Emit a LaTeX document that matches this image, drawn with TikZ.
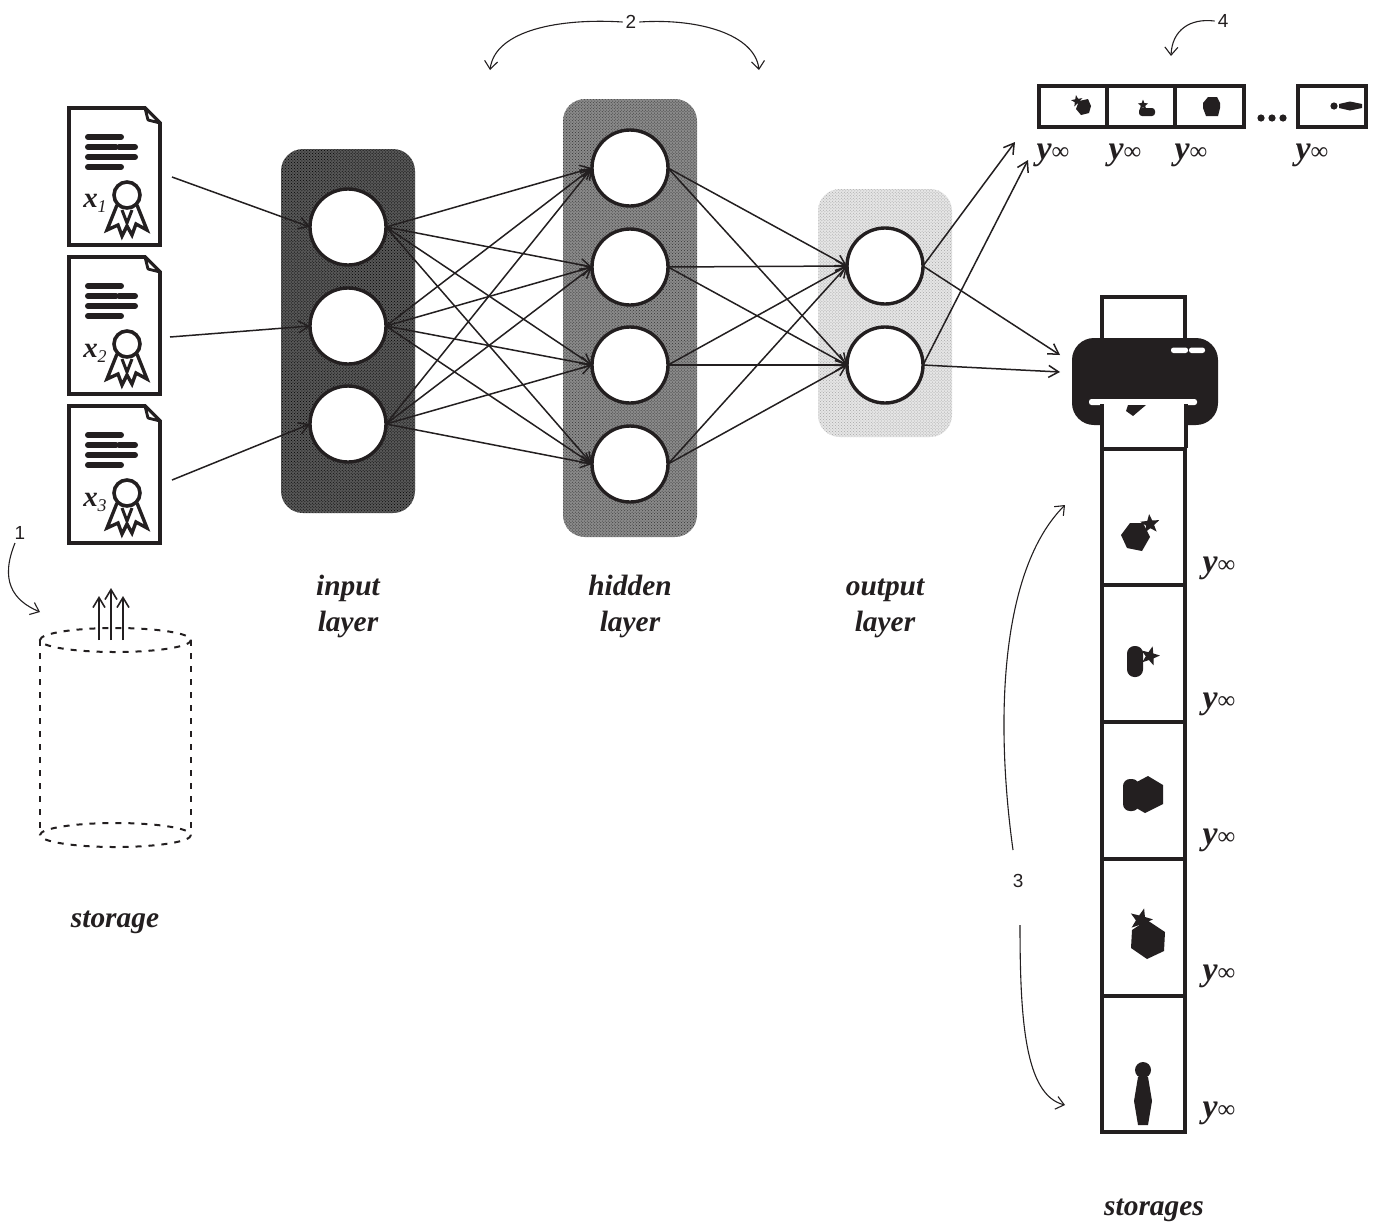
\documentclass[tikz,border=0pt]{standalone}
\usepackage{fontspec}
\setmainfont{Liberation Serif}
\newfontfamily\numfont{Liberation Sans}
\usetikzlibrary{arrows.meta,patterns}
\definecolor{ink}{HTML}{231F20}
\tikzset{
  layerbox/.style={rounded corners=22bp,draw=none},
  neuron/.style={circle,draw=ink,fill=white,line width=3.4bp,minimum size=76bp,inner sep=0pt,outer sep=0pt},
  conn/.style={draw=ink,line width=1.5bp,-{Straight Barb[length=10bp,width=12bp]}},
  curvearrow/.style={draw=ink,line width=1.1bp,-{Straight Barb[length=8bp,width=13bp]}},
  layertext/.style={font=\fontsize{29.5}{36}\selectfont\bfseries\itshape,align=center,text=ink},
  numlabel/.style={font=\numfont\fontsize{19}{19}\selectfont,text=ink,inner sep=3pt},
  cellbox/.style={draw=ink,line width=4bp,fill=white},
  yinflabel/.style={inner sep=0pt,text=ink},
  doctext/.style={font=\fontsize{29}{29}\selectfont\bfseries\itshape,text=ink,inner sep=0pt},
  blob/.style={fill=ink,draw=none},
  dashline/.style={draw=ink,line width=2bp,dash pattern=on 6bp off 7bp}
}
\newcommand\yinf{{\fontsize{34}{34}\selectfont\bfseries\itshape y}{\fontsize{25}{25}\selectfont ∞}}
\newcommand\starat[4]{\fill[blob,shift={(#1,#2)},rotate=#4,scale=#3] (0,-1)--(.25,-.33)--(.95,-.31)--(.4,.14)--(.59,.81)--(0,.42)--(-.59,.81)--(-.4,.14)--(-.95,-.31)--(-.25,-.33)--cycle;}
\newcommand\docicon[3]{%
  \begin{scope}[shift={(#1,#2)}]
    \draw[ink,line width=3.8bp,fill=white,line join=miter] (0,0)--(76,0)--(91,15)--(91,137)--(0,137)--cycle;
    \draw[ink,line width=2.8bp,fill=white,line join=round] (76,0)--(79,12)--(91,15)--cycle;
    \draw[ink,line width=6bp,line cap=round] (19,29)--(52,29) (19,39)--(47,39) (50,39)--(66,39) (19,49)--(66,49) (19,59)--(52,59);
    \draw[ink,line width=3.4bp,fill=white,line join=miter] (48,97)--(38,122)--(49,117)--(53,128)--(58,118)--(63,127)--(67,116)--(78,122)--(68,97);
    \draw[ink,line width=3bp] (53,102)--(58,115)--(63,102);
    \draw[ink,line width=3.6bp,fill=white] (58,87) circle[radius=13];
    \coordinate (#3) at (27,93);
  \end{scope}}
\begin{document}
\begin{tikzpicture}[x=1bp,y=-1bp]
\useasboundingbox (0,0) rectangle (1382,1225);
\fill[white] (0,0) rectangle (1382,1225);
% layers
\fill[layerbox,fill=black!66] (281,149) rectangle (415,513);
\fill[layerbox,pattern=crosshatch dots,pattern color=black] (281,149) rectangle (415,513);
\fill[layerbox,fill=black!46] (563,99) rectangle (697,537);
\fill[layerbox,pattern=crosshatch dots,pattern color=black!80] (563,99) rectangle (697,537);
\fill[layerbox,fill=black!10] (818,189) rectangle (952,437);
\fill[layerbox,pattern=crosshatch dots,pattern color=black!35] (818,189) rectangle (952,437);
% neurons
\node[neuron] (i1) at (348,227) {};
\node[neuron] (i2) at (348,326) {};
\node[neuron] (i3) at (348,424) {};
\node[neuron] (h1) at (630,168) {};
\node[neuron] (h2) at (630,267) {};
\node[neuron] (h3) at (630,365) {};
\node[neuron] (h4) at (630,464) {};
\node[neuron] (o1) at (885,266) {};
\node[neuron] (o2) at (885,365) {};
% documents
\docicon{69}{108}{docA}
\docicon{69}{257}{docB}
\docicon{69}{406}{docC}
\node[doctext] (xa) at (95,203) {x\raisebox{-5pt}{\fontsize{18}{18}\selectfont\mdseries 1}};
\node[doctext] (xb) at (95,353) {x\raisebox{-5pt}{\fontsize{18}{18}\selectfont\mdseries 2}};
\node[doctext] (xc) at (95,502) {x\raisebox{-5pt}{\fontsize{18}{18}\selectfont\mdseries 3}};
\coordinate (d1) at (172,177);
\coordinate (d2) at (170,337);
\coordinate (d3) at (172,480);
\draw[conn] (d1)--(i1.west);
\draw[conn] (d2)--(i2.west);
\draw[conn] (d3)--(i3.west);
\foreach \a in {i1,i2,i3}\foreach \b in {h1,h2,h3,h4}{\draw[conn] (\a.east)--(\b.west);}
\foreach \a in {h1,h2,h3,h4}\foreach \b in {o1,o2}{\draw[conn] (\a.east)--(\b.west);}
\coordinate (s1) at (1015,142);
\coordinate (s2) at (1028,160);
\coordinate (p1) at (1060,355);
\coordinate (p2) at (1060,372);
\draw[conn] (o1.east)--(s1);
\draw[conn] (o2.east)--(s2);
\draw[conn] (o1.east)--(p1);
\draw[conn] (o2.east)--(p2);
% storage
\draw[dashline] (115.5,640) ellipse[x radius=75.5,y radius=12];
\draw[dashline] (115.5,835) ellipse[x radius=75.5,y radius=12];
\draw[dashline] (40,640)--(40,835) (191,640)--(191,835);
\coordinate (ua) at (99,640); \coordinate (ub) at (111,640); \coordinate (uc) at (123,640);
\coordinate (va) at (99,596); \coordinate (vb) at (111,588); \coordinate (vc) at (123,596);
\draw[conn,line width=1.6bp] (ua)--(va);
\draw[conn,line width=1.6bp] (ub)--(vb);
\draw[conn,line width=1.6bp] (uc)--(vc);
% top strip
\draw[cellbox] (1038.5,85.5) rectangle (1107,127);
\draw[cellbox] (1107,85.5) rectangle (1175,127);
\draw[cellbox] (1175,85.5) rectangle (1244,127);
\draw[cellbox] (1297.5,85.5) rectangle (1366,127);
\fill[blob] (1261,118) circle[radius=3.6] (1272,118) circle[radius=3.6] (1283,118) circle[radius=3.6];
\fill[blob] (1079,101)--(1088,99)--(1091,106)--(1089,113)--(1081,115)--(1076,109)--cycle;
\starat{1077}{101}{6}{10}
\fill[blob,rounded corners=3bp] (1139,108) rectangle (1155,116);
\starat{1143}{105}{5.5}{0}
\fill[blob] (1208,97)--(1217,97)--(1220,103)--(1220,108)--(1218,116)--(1206,116)--(1203,108)--(1203,103)--cycle;
\fill[blob] (1334,106) circle[radius=3.6];
\fill[blob] (1339,104)--(1350,101.5)--(1362,104)--(1362,108)--(1350,110.5)--(1339,108)--cycle;
% printer
\draw[cellbox] (1102,296.5) rectangle (1185,345);
\fill[blob,rounded corners=22bp] (1072,338) rectangle (1218,425);
\fill[white,rounded corners=2.5bp] (1089,399) rectangle (1197,405);
\fill[white,rounded corners=2.5bp] (1171,347.5) rectangle (1188,353);
\fill[white,rounded corners=2.5bp] (1189,347.5) rectangle (1205,353);
\fill[white] (1103.5,404) rectangle (1184.5,448);
\draw[ink,line width=4bp] (1102,404)--(1102,448) (1185.5,404)--(1185.5,448);
\fill[blob] (1128,405)--(1146,405)--(1133,416)--(1126,411)--cycle;
% column
\draw[cellbox] (1102,448.5) rectangle (1185,585);
\draw[cellbox] (1102,585) rectangle (1185,722);
\draw[cellbox] (1102,722) rectangle (1185,859);
\draw[cellbox] (1102,859) rectangle (1185,996);
\draw[cellbox] (1102,996) rectangle (1185,1132);
\fill[blob] (1130,523)--(1143,523)--(1150,537)--(1142,551)--(1127,548)--(1121,535)--cycle;
\starat{1150}{524}{10}{5}
\fill[blob,rounded corners=7.5bp] (1127,646) rectangle (1143,677);
\starat{1150}{656}{10}{-15}
\fill[blob,rounded corners=7bp] (1123,779) rectangle (1139,811);
\fill[blob] (1148,776)--(1163,785)--(1163,804)--(1145,813)--(1131,805)--(1131,785)--cycle;
\fill[blob] (1132,930)--(1147,920)--(1165,932)--(1164,951)--(1147,959)--(1131,948)--cycle;
\starat{1141}{920}{12}{-15}
\fill[blob] (1143,1070) circle[radius=8];
\fill[blob] (1138,1077)--(1148,1077)--(1152,1101)--(1148,1125)--(1138,1125)--(1134,1101)--cycle;
% y labels
\node[yinflabel] (ya) at (1053,155) {\yinf};
\node[yinflabel] (yb) at (1125,155) {\yinf};
\node[yinflabel] (yc) at (1191,155) {\yinf};
\node[yinflabel] (yd) at (1312,155) {\yinf};
\node[yinflabel] (ye) at (1219,568) {\yinf};
\node[yinflabel] (yf) at (1219,704) {\yinf};
\node[yinflabel] (yg) at (1219,840) {\yinf};
\node[yinflabel] (yh) at (1219,976) {\yinf};
\node[yinflabel] (yi) at (1219,1113) {\yinf};
% layer texts
\node[layertext] (tin) at (348,606) {input\strut\\layer\strut};
\node[layertext] (thid) at (630,606) {hidden\strut\\layer\strut};
\node[layertext] (tout) at (885,606) {output\strut\\layer\strut};
\node[layertext] (tsto) at (115,920) {storage\strut};
\node[layertext] (tstos) at (1154,1208) {storages\strut};
% numbered labels
\node[numlabel] (n1) at (20,533) {1};
\node[numlabel] (n2) at (631,22) {2};
\node[numlabel] (n3) at (1018,881) {3};
\node[numlabel] (n4) at (1223,21) {4};
\coordinate (c1) at (40,612);
\coordinate (c2a) at (490,70);
\coordinate (c2b) at (759,70);
\coordinate (c3a) at (1065,505);
\coordinate (c3b) at (1065,1105);
\coordinate (c4) at (1171,56);
\draw[curvearrow] (15,543) .. controls (0,580) and (12,600) .. (c1);
\draw[curvearrow] (n2.west) .. controls (560,18) and (495,30) .. (c2a);
\draw[curvearrow] (n2.east) .. controls (700,18) and (755,35) .. (c2b);
\draw[curvearrow] (1013,850) .. controls (995,720) and (1000,570) .. (c3a);
\draw[curvearrow] (1020,925) .. controls (1020,1020) and (1025,1095) .. (c3b);
\draw[curvearrow] (n4.west) .. controls (1190,18) and (1172,30) .. (c4);
\end{tikzpicture}
\end{document}
